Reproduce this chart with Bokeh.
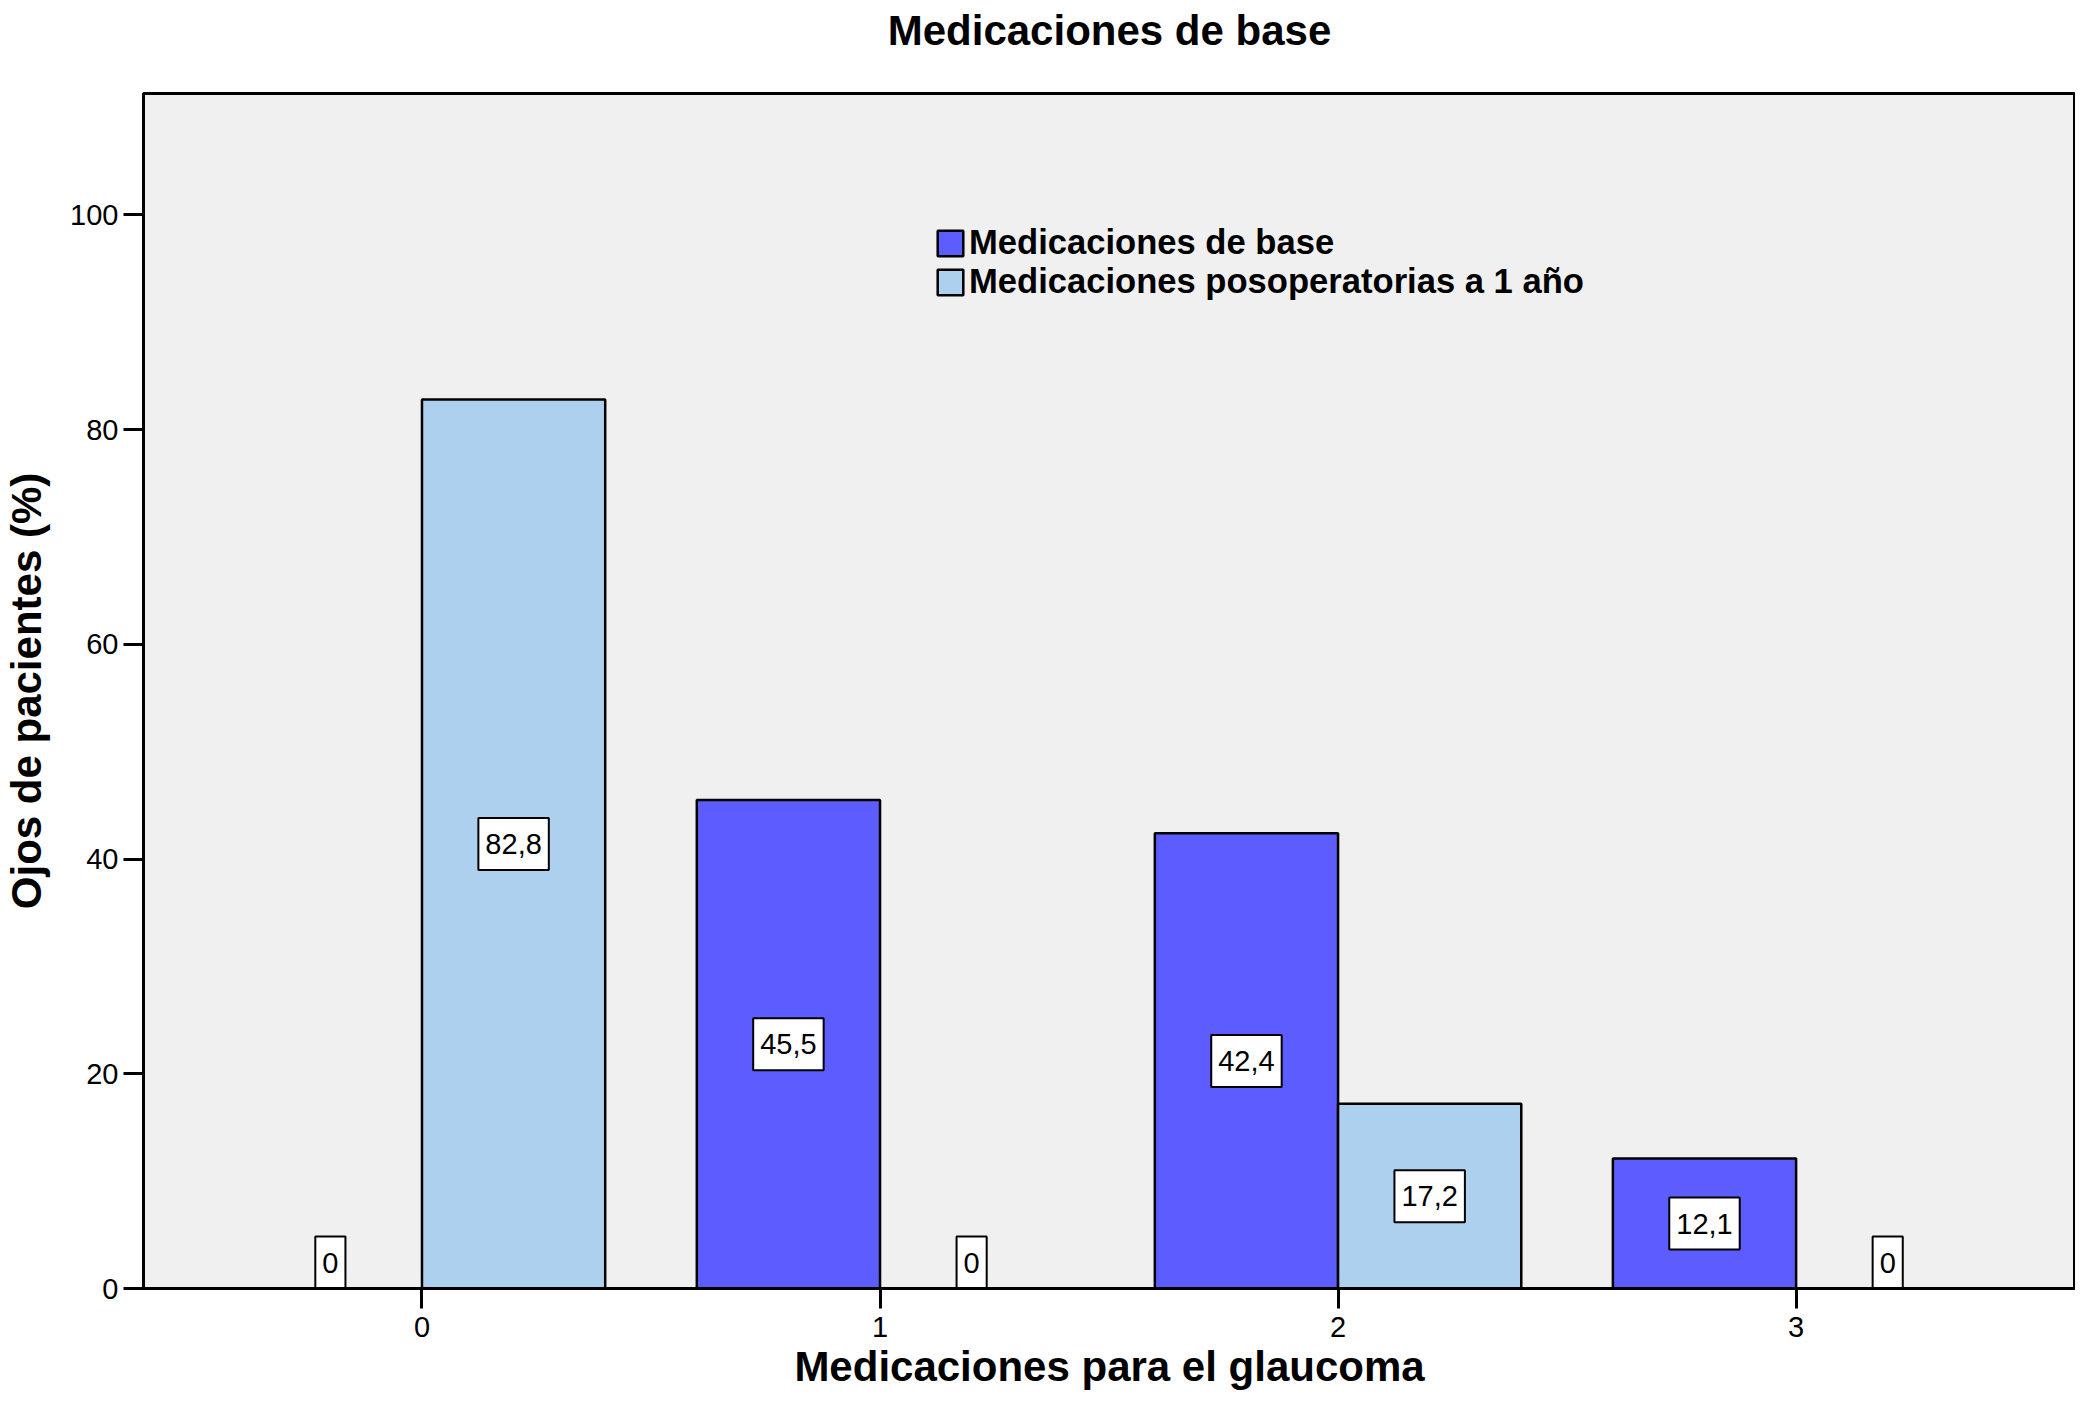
from bokeh.plotting import figure
from bokeh.models import (ColumnDataSource, Range1d, FixedTicker,
                          Legend, LegendItem, LinearAxis)
from bokeh.transform import dodge
from bokeh.core.properties import value
from bokeh.embed import file_html
from bokeh.resources import INLINE

# ---- data ----
title_text = "Medicaciones de base"
categories = [0, 1, 2, 3]
tick_labels = ["0", "1", "2", "3"]
base_values = [0.0, 45.5, 42.4, 12.1]
post_values = [82.8, 0.0, 17.2, 0.0]
series_names = ["Medicaciones de base", "Medicaciones posoperatorias a 1 año"]
y_ticks = [0, 20, 40, 60, 80, 100]

FONT = "Liberation Sans"
BASE_COLOR = "#5D5DFF"
POST_COLOR = "#ADD0EF"


def fmt(v):
    return "0" if v == 0 else f"{v:.1f}".replace(".", ",")


src = ColumnDataSource(dict(
    cat=categories,
    base=base_values,
    post=post_values,
    base_mid=[v / 2 for v in base_values],
    post_mid=[v / 2 for v in post_values],
    base_txt=[fmt(v) for v in base_values],
    post_txt=[fmt(v) for v in post_values],
    base_off=[-26 if v == 0 else 0 for v in base_values],
    post_off=[-26 if v == 0 else 0 for v in post_values],
))

x_rng = Range1d(-0.608, 3.61)
y_rng = Range1d(0, 111.3)
p = figure(width=2075, height=1392, x_range=x_rng, y_range=y_rng,
           output_backend="svg", toolbar_location=None,
           min_border_left=138, min_border_right=0,
           min_border_top=93, min_border_bottom=98)

p.background_fill_color = "#F0F0F0"
p.border_fill_color = "white"
p.outline_line_color = "black"
p.outline_line_width = 3
p.xgrid.visible = False
p.ygrid.visible = False

r_base = p.vbar(x=dodge("cat", -0.2, range=p.x_range), top="base", bottom=0, width=0.4,
                source=src, fill_color=BASE_COLOR, line_color="black", line_width=2.5)
r_post = p.vbar(x=dodge("cat", 0.2, range=p.x_range), top="post", bottom=0, width=0.4,
                source=src, fill_color=POST_COLOR, line_color="black", line_width=2.5)

for col, mid, off, dx in (("base_txt", "base_mid", "base_off", -0.2),
                          ("post_txt", "post_mid", "post_off", 0.2)):
    p.text(x=dodge("cat", dx, range=p.x_range), y=mid, text=col, y_offset=off,
           source=src, text_align="center", text_baseline="middle",
           text_font=value(FONT), text_font_size="29px", text_color="black",
           background_fill_color="white", border_line_color="black",
           border_line_width=2, padding=(7, 16))

xa = p.below[0]
xa.ticker = FixedTicker(ticks=categories)
xa.major_label_overrides = {c: t for c, t in zip(categories, tick_labels)}
xa.axis_label = "Medicaciones para el glaucoma"
ya = p.left[0]
ya.ticker = FixedTicker(ticks=y_ticks)
ya.axis_label = "Ojos de pacientes (%)"

for ax in (xa, ya):
    ax.minor_tick_line_color = None
    ax.major_tick_in = 0
    ax.major_tick_out = 20
    ax.major_tick_line_width = 3
    ax.major_tick_line_color = "black"
    ax.axis_line_width = 3
    ax.axis_line_color = "black"
    ax.major_label_text_font = FONT
    ax.major_label_text_font_size = "29px"
    ax.major_label_text_color = "black"
    ax.axis_label_text_font = FONT
    ax.axis_label_text_font_size = "42px"
    ax.axis_label_text_font_style = "bold"
    ax.axis_label_text_color = "black"

xa.major_label_standoff = 8
xa.axis_label_standoff = 3
ya.major_label_standoff = 5
ya.axis_label_standoff = 17

# chart title: a tick-less axis above the frame carrying the title as its label
title_axis = LinearAxis(ticker=FixedTicker(ticks=[]), axis_label=title_text,
                        axis_line_color=None, major_tick_line_color=None,
                        minor_tick_line_color=None, major_tick_in=0, major_tick_out=0,
                        major_label_standoff=0,
                        axis_label_standoff=40,
                        axis_label_text_font=FONT, axis_label_text_font_size="42px",
                        axis_label_text_font_style="bold", axis_label_text_color="black")
p.add_layout(title_axis, "above")

legend = Legend(items=[LegendItem(label=series_names[0], renderers=[r_base]),
                       LegendItem(label=series_names[1], renderers=[r_post])],
                location=(791, 987), orientation="vertical",
                background_fill_alpha=0, border_line_alpha=0,
                padding=0, spacing=0, margin=0,
                label_standoff=3, glyph_width=32, glyph_height=32,
                label_height=37,
                label_text_font=FONT, label_text_font_size="34.6px",
                label_text_font_style="bold", label_text_color="black")
p.add_layout(legend, "center")

open("out.html", "w").write(file_html(p, INLINE))
